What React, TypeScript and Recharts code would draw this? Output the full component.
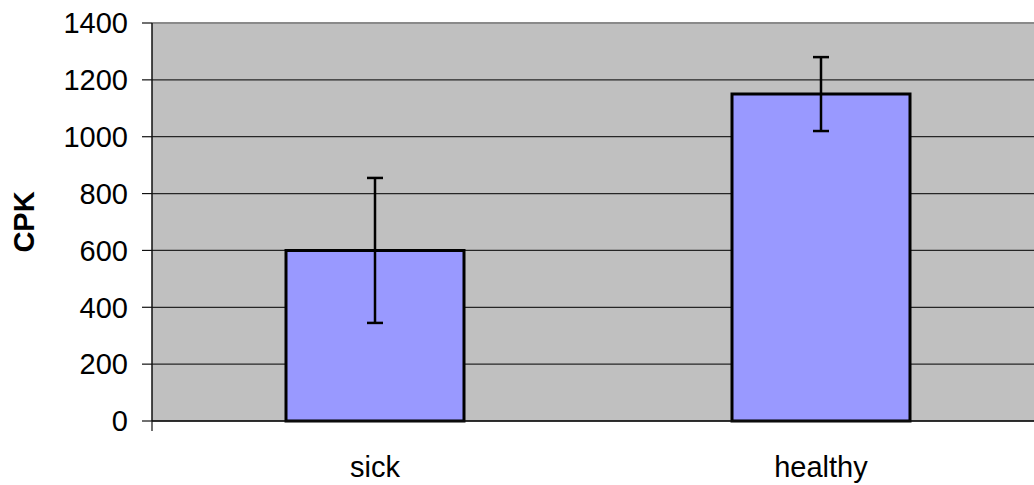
import React from 'react';
import { BarChart, Bar, XAxis, YAxis, CartesianGrid, ErrorBar, ReferenceLine } from 'recharts';

const groups = ['sick', 'healthy'];
const cpk = [600, 1150];
const cpkError = [255, 130];
const yTicks = [0, 200, 400, 600, 800, 1000, 1200, 1400];
const edgeTicks = [0, 1, 2];

const FONT = '"Liberation Sans", Arial, sans-serif';

export default function App() {
  const data = groups.map((g, i) => ({ group: g, cpk: cpk[i], err: cpkError[i] }));

  const cpkLabel = ({ viewBox }: any) => {
    const cx = viewBox.x + 24;
    const cy = viewBox.y + viewBox.height / 2;
    return (
      <text
        x={cx}
        y={cy}
        transform={`rotate(-90, ${cx}, ${cy})`}
        textAnchor="middle"
        dominantBaseline="central"
        fontFamily={FONT}
        fontSize={29}
        fontWeight="bold"
        fill="#000"
      >
        CPK
      </text>
    );
  };

  return (
    <div style={{ position: 'absolute', left: 0, top: 0, width: 1034, height: 485, overflow: 'hidden', background: '#fff' }}>
      <BarChart
        width={1050}
        height={485}
        data={data}
        margin={{ top: 23, right: 6, left: 0, bottom: 0 }}
        barSize={178}
      >
        <CartesianGrid vertical={false} fill="#C0C0C0" fillOpacity={1} stroke="#262626" strokeWidth={1.2} />
        <ReferenceLine y={1400} stroke="#8a8a8a" strokeWidth={2} />
        {/* boundary ticks between categories, Excel style (default id so it sits next to the plot) */}
        <XAxis
          type="number"
          domain={[0, 2]}
          ticks={edgeTicks}
          allowDataOverflow
          height={1}
          tickFormatter={() => ''}
          tickSize={10}
          axisLine={{ stroke: '#111', strokeWidth: 1.5 }}
          tickLine={{ stroke: '#111', strokeWidth: 1.2 }}
        />
        <XAxis
          xAxisId="cat"
          dataKey="group"
          height={63}
          axisLine={false}
          tickLine={false}
          tickSize={0}
          tickMargin={34}
          tick={{ fontFamily: FONT, fontSize: 29, fill: '#000' }}
        />
        <YAxis
          width={152}
          domain={[0, 1400]}
          ticks={yTicks}
          interval={0}
          tickSize={10}
          tickMargin={14}
          axisLine={{ stroke: '#111', strokeWidth: 1.5 }}
          tickLine={{ stroke: '#111', strokeWidth: 1.2 }}
          tick={{ fontFamily: FONT, fontSize: 29, fill: '#000' }}
          label={{ content: cpkLabel }}
        />
        <Bar xAxisId="cat" dataKey="cpk" fill="#9999FF" stroke="#000" strokeWidth={3} isAnimationActive={false}>
          <ErrorBar dataKey="err" width={8} stroke="#000" strokeWidth={2.5} isAnimationActive={false} />
        </Bar>
      </BarChart>
    </div>
  );
}
